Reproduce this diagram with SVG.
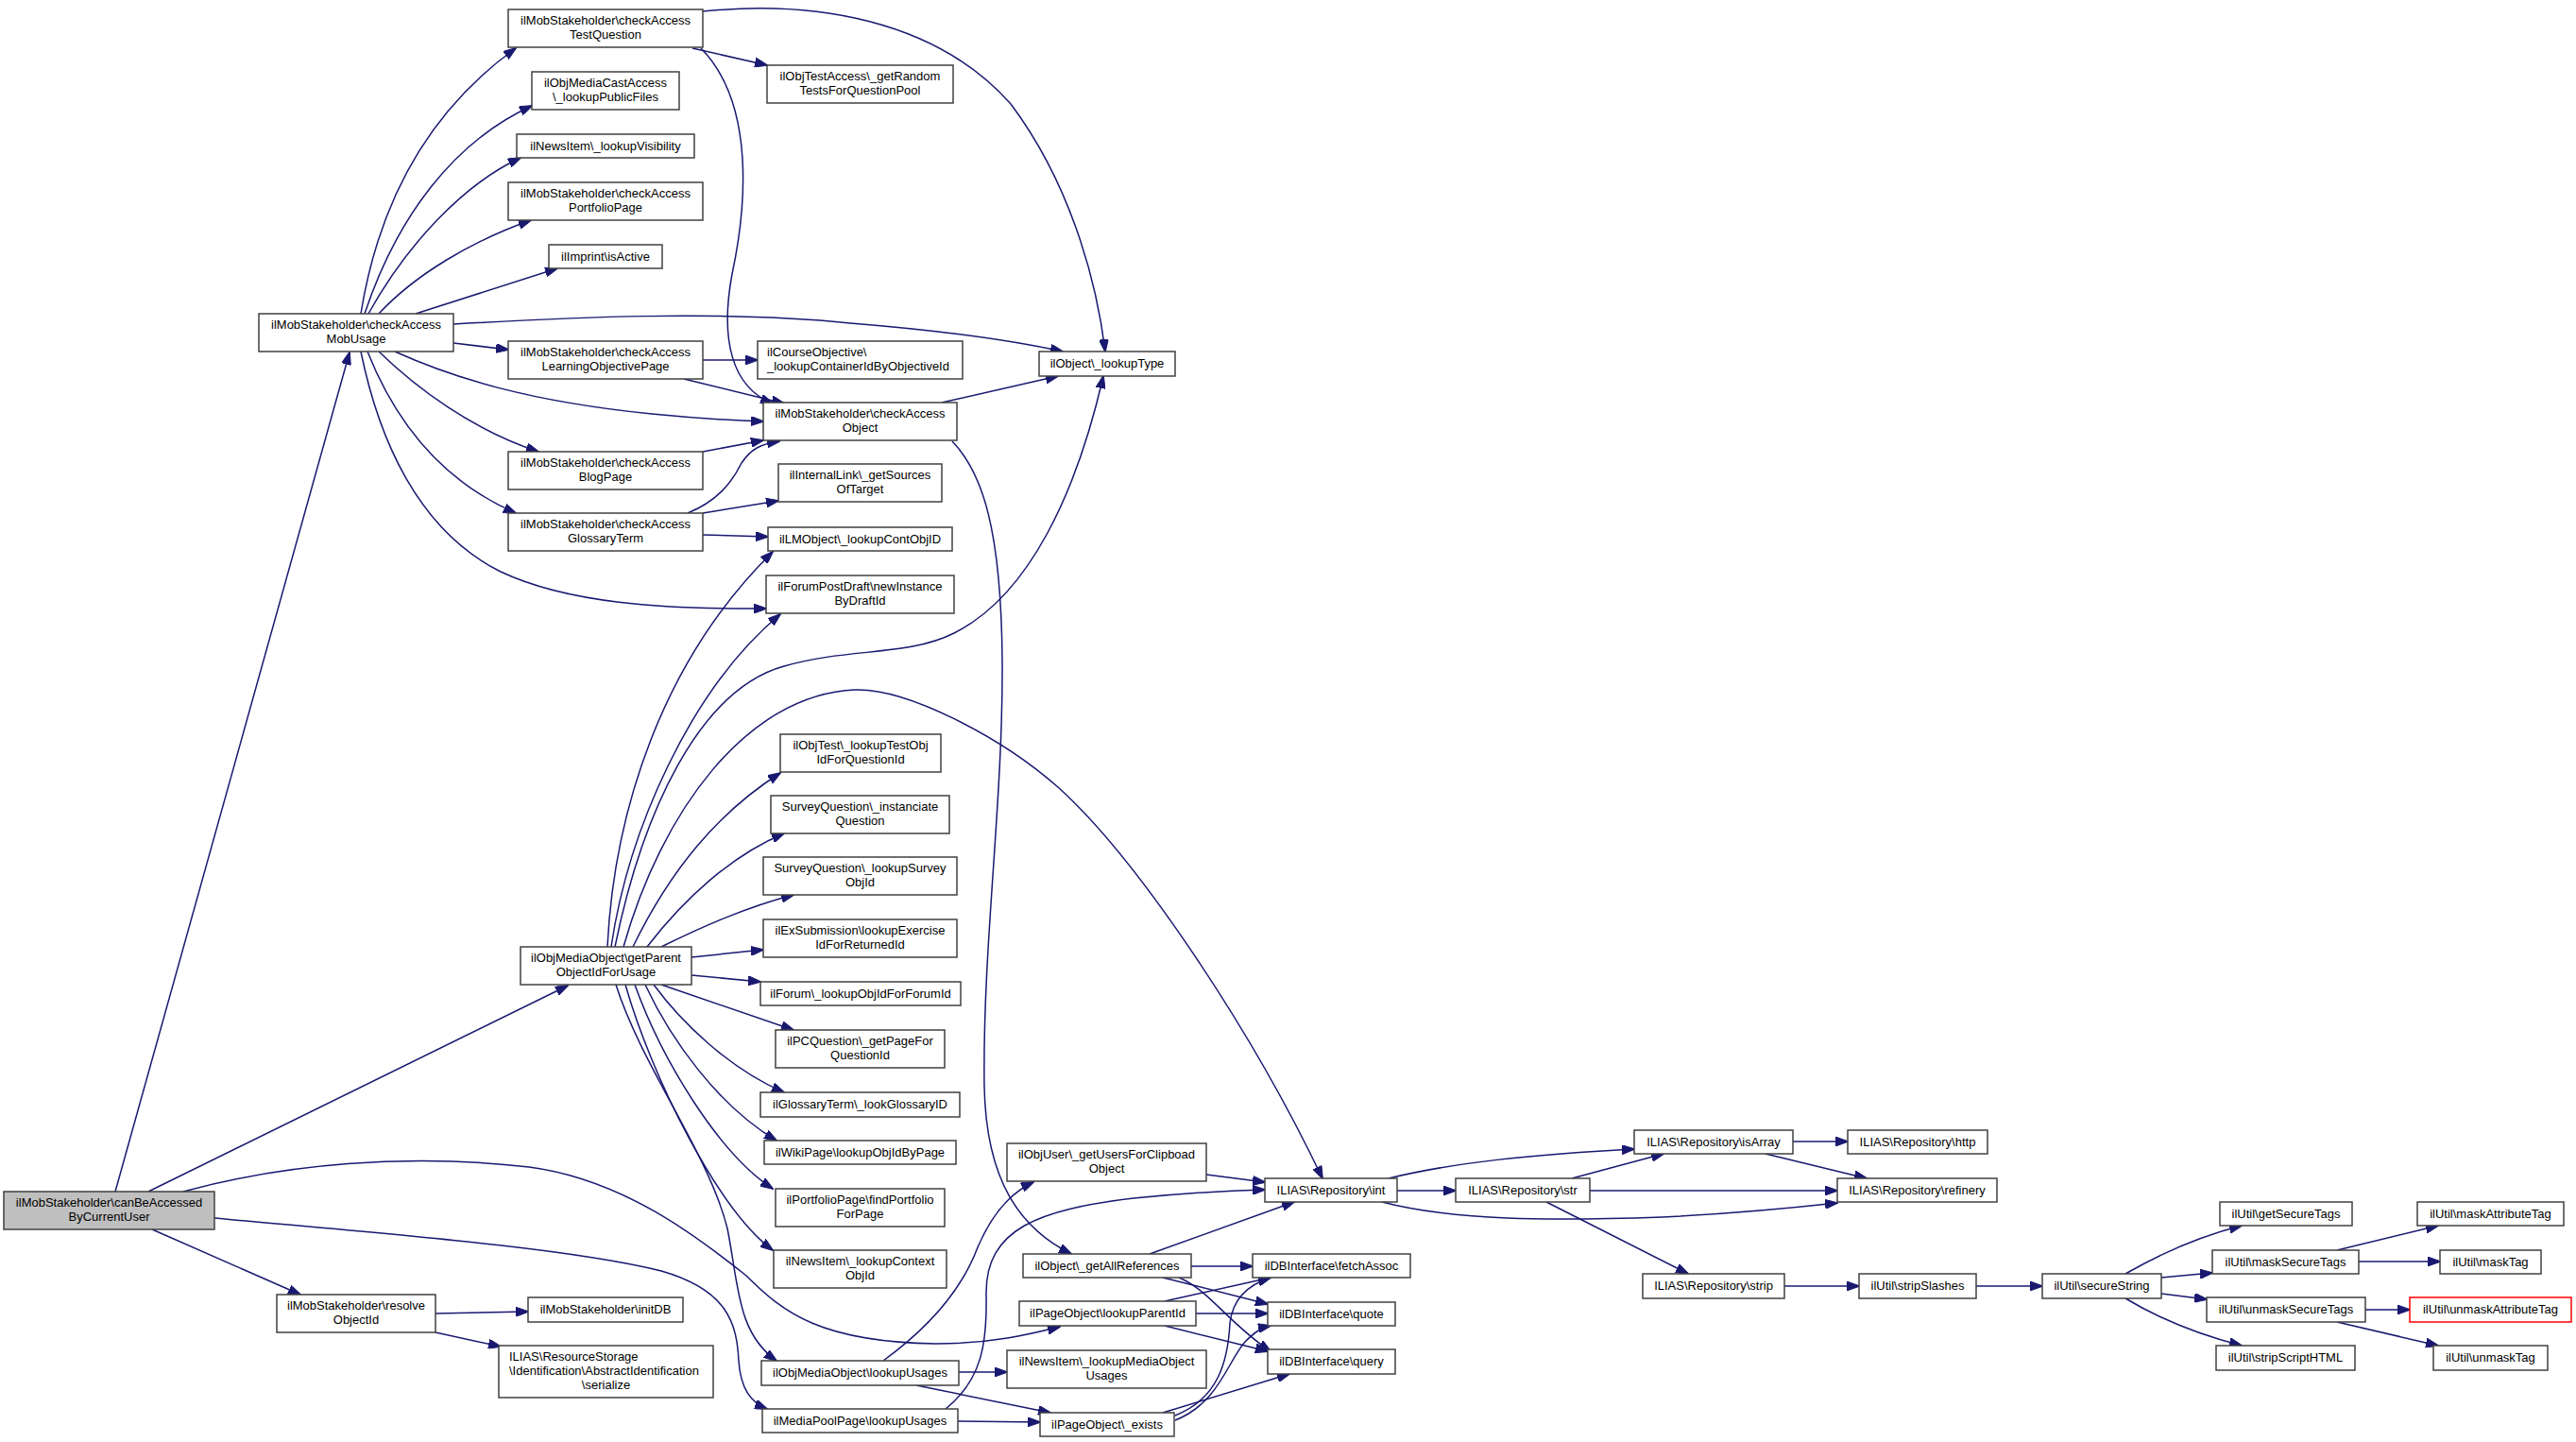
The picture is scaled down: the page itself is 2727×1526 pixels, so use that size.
<svg xmlns="http://www.w3.org/2000/svg" width="2727" height="1526" viewBox="0 0 2727 1526">
<style>
.node rect{fill:#fff;stroke:#404040;stroke-width:1.5}
.node text{font-family:"Liberation Sans",Arial,sans-serif;font-size:13px;fill:#000;text-anchor:middle}
.node text.l{text-anchor:start}
.edges path{fill:none;stroke:#191970;stroke-width:1.5;marker-end:url(#arr)}
</style>
<defs>
<marker id="arr" markerWidth="14" markerHeight="10" refX="13" refY="5" orient="auto" markerUnits="userSpaceOnUse">
<path d="M0,0 L14,5 L0,10 z" fill="#191970" stroke="#191970" stroke-width="1"/>
</marker>
</defs>
<rect x="0" y="0" width="2727" height="1526" fill="#fff"/>
<g class="edges" id="edges">
<path d="M122,1261 L370,373"/>
<path d="M157,1261 L601,1043"/>
<path d="M194,1261 C300,1232 430,1220 560,1235 C660,1248 740,1310 790,1350 C830,1390 870,1420 990,1422 C1050,1422 1090,1412 1122,1404"/>
<path d="M227,1289 C400,1305 600,1320 700,1345 C770,1365 780,1400 782,1440 C784,1470 795,1484 812,1491"/>
<path d="M161,1301 L318,1370"/>
<path d="M461,1390 L559,1388"/>
<path d="M461,1410 L530,1425"/>
<path d="M382,332 C400,220 450,120 546,51"/>
<path d="M386,332 C420,230 480,150 563,112"/>
<path d="M390,332 C430,260 490,195 551,167"/>
<path d="M401,332 C440,290 500,255 562,233"/>
<path d="M440,332 L590,284"/>
<path d="M480,343 C600,336 760,328 900,342 C1000,350 1070,360 1125,372"/>
<path d="M480,363 L538,370"/>
<path d="M418,372 C480,400 560,425 690,438 C740,443 780,445 808,446"/>
<path d="M401,372 C440,410 500,455 570,478"/>
<path d="M389,372 C420,450 470,510 546,543"/>
<path d="M382,372 C400,460 440,560 530,605 C600,638 700,645 811,644"/>
<path d="M733,51 L812,69"/>
<path d="M744,12 C860,0 990,20 1070,110 C1130,190 1160,290 1170,372"/>
<path d="M742,51 C800,110 790,220 775,290 C762,360 775,410 818,427"/>
<path d="M744,381 L802,381"/>
<path d="M724,401 L830,427"/>
<path d="M744,478 L808,466"/>
<path d="M728,543 C760,530 775,510 785,490 C795,475 805,470 825,467"/>
<path d="M744,543 L824,530"/>
<path d="M744,566 L813,568"/>
<path d="M997,426 L1120,398"/>
<path d="M1008,467 C1040,500 1060,560 1061,700 C1062,850 1040,1000 1042,1150 C1044,1250 1080,1300 1134,1327"/>
<path d="M643,1002 C650,860 700,700 818,584"/>
<path d="M647,1002 C665,880 730,730 826,650"/>
<path d="M651,1002 C680,860 740,730 830,705 C900,685 960,695 1010,670 C1090,630 1140,520 1168,398"/>
<path d="M660,1002 C700,860 790,735 905,730 C960,728 1060,780 1120,833 C1200,905 1320,1080 1400,1247"/>
<path d="M670,1002 C710,920 760,860 826,818"/>
<path d="M685,1002 C725,950 775,905 830,882"/>
<path d="M700,1002 C745,980 790,960 840,947"/>
<path d="M732,1013 L808,1005"/>
<path d="M732,1032 L805,1039"/>
<path d="M700,1042 L840,1090"/>
<path d="M692,1042 C720,1080 770,1130 830,1156"/>
<path d="M683,1042 C710,1100 760,1170 822,1207"/>
<path d="M672,1042 C700,1120 760,1220 818,1258"/>
<path d="M662,1042 C690,1140 760,1280 818,1323"/>
<path d="M652,1042 C680,1130 750,1220 770,1300 C782,1360 780,1410 822,1440"/>
<path d="M935,1440 C990,1400 1020,1360 1035,1320 C1050,1285 1070,1262 1094,1251"/>
<path d="M1015,1452 L1066,1452"/>
<path d="M970,1466 L1112,1495"/>
<path d="M1001,1491 C1040,1460 1045,1420 1044,1370 C1043,1300 1100,1280 1200,1268 C1260,1262 1300,1260 1339,1259"/>
<path d="M1014,1504 L1101,1505"/>
<path d="M1277,1243 L1339,1251"/>
<path d="M1217,1327 L1370,1272"/>
<path d="M1261,1340 L1326,1340"/>
<path d="M1231,1352 L1342,1380"/>
<path d="M1248,1352 C1280,1365 1300,1400 1345,1430"/>
<path d="M1233,1377 L1345,1352"/>
<path d="M1266,1390 L1342,1390"/>
<path d="M1233,1403 L1342,1430"/>
<path d="M1244,1498 C1290,1480 1300,1440 1302,1400 C1305,1375 1320,1360 1345,1352"/>
<path d="M1244,1503 C1290,1485 1300,1440 1318,1420 C1328,1410 1335,1405 1345,1403"/>
<path d="M1231,1495 L1365,1454"/>
<path d="M1470,1247 C1540,1230 1620,1222 1730,1216"/>
<path d="M1479,1260 L1541,1260"/>
<path d="M1463,1272 C1540,1292 1640,1292 1760,1288 C1840,1284 1900,1278 1945,1273"/>
<path d="M1664,1247 L1761,1221"/>
<path d="M1683,1260 L1945,1260"/>
<path d="M1637,1272 L1787,1348"/>
<path d="M1898,1208 L1956,1208"/>
<path d="M1869,1221 L1976,1247"/>
<path d="M1889,1361 L1968,1361"/>
<path d="M2092,1361 L2162,1361"/>
<path d="M2250,1348 C2290,1325 2330,1308 2373,1297"/>
<path d="M2288,1352 L2342,1347"/>
<path d="M2288,1369 L2336,1375"/>
<path d="M2250,1374 C2290,1398 2330,1413 2373,1424"/>
<path d="M2474,1323 L2581,1297"/>
<path d="M2497,1335 L2583,1335"/>
<path d="M2504,1386 L2551,1386"/>
<path d="M2474,1399 L2581,1424"/>
</g>
<g class="node" id="n0"><rect x="4" y="1261" width="223" height="40" style="fill:#bfbfbf"/><text x="115.5" y="1277">ilMobStakeholder\canBeAccessed</text><text x="115.5" y="1292">ByCurrentUser</text></g>
<g class="node" id="n1"><rect x="274" y="332" width="206" height="40"/><text x="377" y="348">ilMobStakeholder\checkAccess</text><text x="377" y="363">MobUsage</text></g>
<g class="node" id="n2"><rect x="293" y="1370" width="168" height="40"/><text x="377" y="1386">ilMobStakeholder\resolve</text><text x="377" y="1401">ObjectId</text></g>
<g class="node" id="n3"><rect x="538" y="10" width="206" height="40"/><text x="641" y="26">ilMobStakeholder\checkAccess</text><text x="641" y="41">TestQuestion</text></g>
<g class="node" id="n4"><rect x="563" y="76" width="156" height="40"/><text x="641" y="92">ilObjMediaCastAccess</text><text x="641" y="107">\_lookupPublicFiles</text></g>
<g class="node" id="n5"><rect x="547" y="142" width="188" height="25"/><text x="641" y="159">ilNewsItem\_lookupVisibility</text></g>
<g class="node" id="n6"><rect x="538" y="193" width="206" height="40"/><text x="641" y="209">ilMobStakeholder\checkAccess</text><text x="641" y="224">PortfolioPage</text></g>
<g class="node" id="n7"><rect x="581" y="259" width="120" height="25"/><text x="641" y="276">ilImprint\isActive</text></g>
<g class="node" id="n8"><rect x="538" y="361" width="206" height="40"/><text x="641" y="377">ilMobStakeholder\checkAccess</text><text x="641" y="392">LearningObjectivePage</text></g>
<g class="node" id="n9"><rect x="538" y="478" width="206" height="40"/><text x="641" y="494">ilMobStakeholder\checkAccess</text><text x="641" y="509">BlogPage</text></g>
<g class="node" id="n10"><rect x="538" y="543" width="206" height="40"/><text x="641" y="559">ilMobStakeholder\checkAccess</text><text x="641" y="574">GlossaryTerm</text></g>
<g class="node" id="n11"><rect x="551" y="1002" width="181" height="40"/><text x="641.5" y="1018">ilObjMediaObject\getParent</text><text x="641.5" y="1033">ObjectIdForUsage</text></g>
<g class="node" id="n12"><rect x="806" y="1440" width="209" height="26"/><text x="910.5" y="1457">ilObjMediaObject\lookupUsages</text></g>
<g class="node" id="n13"><rect x="807" y="1491" width="207" height="25"/><text x="910.5" y="1508">ilMediaPoolPage\lookupUsages</text></g>
<g class="node" id="n14"><rect x="812" y="69" width="197" height="40"/><text x="910.5" y="85">ilObjTestAccess\_getRandom</text><text x="910.5" y="100">TestsForQuestionPool</text></g>
<g class="node" id="n15"><rect x="802" y="361" width="217" height="40"/><text class="l" x="812" y="377">ilCourseObjective\</text><text class="l" x="812" y="392">_lookupContainerIdByObjectiveId</text></g>
<g class="node" id="n16"><rect x="808" y="426" width="205" height="40"/><text x="910.5" y="442">ilMobStakeholder\checkAccess</text><text x="910.5" y="457">Object</text></g>
<g class="node" id="n17"><rect x="824" y="491" width="173" height="40"/><text x="910.5" y="507">ilInternalLink\_getSources</text><text x="910.5" y="522">OfTarget</text></g>
<g class="node" id="n18"><rect x="813" y="558" width="195" height="25"/><text x="910.5" y="575">ilLMObject\_lookupContObjID</text></g>
<g class="node" id="n19"><rect x="811" y="609" width="199" height="40"/><text x="910.5" y="625">ilForumPostDraft\newInstance</text><text x="910.5" y="640">ByDraftId</text></g>
<g class="node" id="n20"><rect x="826" y="777" width="170" height="40"/><text x="911" y="793">ilObjTest\_lookupTestObj</text><text x="911" y="808">IdForQuestionId</text></g>
<g class="node" id="n21"><rect x="816" y="842" width="189" height="40"/><text x="910.5" y="858">SurveyQuestion\_instanciate</text><text x="910.5" y="873">Question</text></g>
<g class="node" id="n22"><rect x="808" y="907" width="205" height="40"/><text x="910.5" y="923">SurveyQuestion\_lookupSurvey</text><text x="910.5" y="938">ObjId</text></g>
<g class="node" id="n23"><rect x="808" y="973" width="205" height="40"/><text x="910.5" y="989">ilExSubmission\lookupExercise</text><text x="910.5" y="1004">IdForReturnedId</text></g>
<g class="node" id="n24"><rect x="805" y="1039" width="212" height="25"/><text x="911" y="1056">ilForum\_lookupObjIdForForumId</text></g>
<g class="node" id="n25"><rect x="821" y="1090" width="179" height="40"/><text x="910.5" y="1106">ilPCQuestion\_getPageFor</text><text x="910.5" y="1121">QuestionId</text></g>
<g class="node" id="n26"><rect x="805" y="1156" width="211" height="26"/><text x="910.5" y="1173">ilGlossaryTerm\_lookGlossaryID</text></g>
<g class="node" id="n27"><rect x="809" y="1207" width="203" height="25"/><text x="910.5" y="1224">ilWikiPage\lookupObjIdByPage</text></g>
<g class="node" id="n28"><rect x="821" y="1258" width="179" height="40"/><text x="910.5" y="1274">ilPortfolioPage\findPortfolio</text><text x="910.5" y="1289">ForPage</text></g>
<g class="node" id="n29"><rect x="819" y="1323" width="183" height="40"/><text x="910.5" y="1339">ilNewsItem\_lookupContext</text><text x="910.5" y="1354">ObjId</text></g>
<g class="node" id="n30"><rect x="559" y="1373" width="164" height="26"/><text x="641" y="1390">ilMobStakeholder\initDB</text></g>
<g class="node" id="n31"><rect x="528" y="1424" width="227" height="55"/><text class="l" x="539" y="1440">ILIAS\ResourceStorage</text><text class="l" x="539" y="1455">\Identification\AbstractIdentification</text><text x="641.5" y="1470">\serialize</text></g>
<g class="node" id="n32"><rect x="1100" y="372" width="144" height="26"/><text x="1172" y="389">ilObject\_lookupType</text></g>
<g class="node" id="n33"><rect x="1066" y="1210" width="211" height="40"/><text x="1171.5" y="1226">ilObjUser\_getUsersForClipboad</text><text x="1171.5" y="1241">Object</text></g>
<g class="node" id="n34"><rect x="1083" y="1327" width="178" height="25"/><text x="1172" y="1344">ilObject\_getAllReferences</text></g>
<g class="node" id="n35"><rect x="1079" y="1377" width="187" height="26"/><text x="1172.5" y="1394">ilPageObject\lookupParentId</text></g>
<g class="node" id="n36"><rect x="1066" y="1429" width="211" height="40"/><text x="1171.5" y="1445">ilNewsItem\_lookupMediaObject</text><text x="1171.5" y="1460">Usages</text></g>
<g class="node" id="n37"><rect x="1101" y="1495" width="142" height="25"/><text x="1172" y="1512">ilPageObject\_exists</text></g>
<g class="node" id="n38"><rect x="1339" y="1247" width="140" height="25"/><text x="1409" y="1264">ILIAS\Repository\int</text></g>
<g class="node" id="n39"><rect x="1326" y="1327" width="167" height="25"/><text x="1409.5" y="1344">ilDBInterface\fetchAssoc</text></g>
<g class="node" id="n40"><rect x="1342" y="1378" width="135" height="25"/><text x="1409.5" y="1395">ilDBInterface\quote</text></g>
<g class="node" id="n41"><rect x="1342" y="1428" width="135" height="26"/><text x="1409.5" y="1445">ilDBInterface\query</text></g>
<g class="node" id="n42"><rect x="1541" y="1247" width="142" height="25"/><text x="1612" y="1264">ILIAS\Repository\str</text></g>
<g class="node" id="n43"><rect x="1730" y="1196" width="168" height="25"/><text x="1814" y="1213">ILIAS\Repository\isArray</text></g>
<g class="node" id="n44"><rect x="1739" y="1348" width="150" height="26"/><text x="1814" y="1365">ILIAS\Repository\strip</text></g>
<g class="node" id="n45"><rect x="1956" y="1196" width="148" height="25"/><text x="2030" y="1213">ILIAS\Repository\http</text></g>
<g class="node" id="n46"><rect x="1945" y="1247" width="169" height="25"/><text x="2029.5" y="1264">ILIAS\Repository\refinery</text></g>
<g class="node" id="n47"><rect x="1968" y="1348" width="124" height="26"/><text x="2030" y="1365">ilUtil\stripSlashes</text></g>
<g class="node" id="n48"><rect x="2162" y="1348" width="126" height="26"/><text x="2225" y="1365">ilUtil\secureString</text></g>
<g class="node" id="n49"><rect x="2350" y="1272" width="140" height="25"/><text x="2420" y="1289">ilUtil\getSecureTags</text></g>
<g class="node" id="n50"><rect x="2342" y="1323" width="155" height="25"/><text x="2419.5" y="1340">ilUtil\maskSecureTags</text></g>
<g class="node" id="n51"><rect x="2336" y="1373" width="168" height="26"/><text x="2420" y="1390">ilUtil\unmaskSecureTags</text></g>
<g class="node" id="n52"><rect x="2346" y="1424" width="147" height="26"/><text x="2419.5" y="1441">ilUtil\stripScriptHTML</text></g>
<g class="node" id="n53"><rect x="2559" y="1272" width="155" height="25"/><text x="2636.5" y="1289">ilUtil\maskAttributeTag</text></g>
<g class="node" id="n54"><rect x="2583" y="1323" width="107" height="25"/><text x="2636.5" y="1340">ilUtil\maskTag</text></g>
<g class="node" id="n55"><rect x="2551" y="1373" width="171" height="26" style="stroke:#ff0000"/><text x="2636.5" y="1390">ilUtil\unmaskAttributeTag</text></g>
<g class="node" id="n56"><rect x="2576" y="1424" width="121" height="26"/><text x="2636.5" y="1441">ilUtil\unmaskTag</text></g>
</svg>
